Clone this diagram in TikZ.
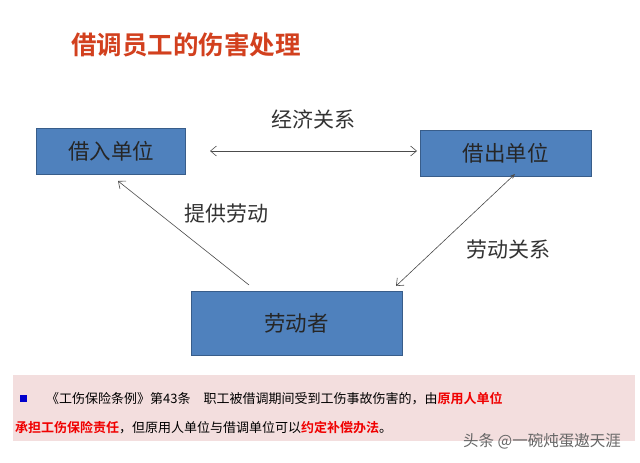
\documentclass[tikz,border=0pt]{standalone}
\usepackage{fontspec}
\newfontfamily\cjk{Noto Sans CJK SC}
\newfontfamily\cjkb{Noto Sans CJK SC Bold}
\usetikzlibrary{arrows.meta}
\definecolor{boxfill}{HTML}{4F81BD}
\definecolor{boxline}{HTML}{385D8A}
\definecolor{titlered}{HTML}{D2401E}
\definecolor{notebg}{HTML}{F3DEDE}
\definecolor{hired}{HTML}{F00000}
\tikzset{
  unitbox/.style={draw=boxline, line width=0.8pt, fill=boxfill, inner sep=0pt, font=\cjk\fontsize{21.5}{21.5}\selectfont, text=black!85},
  lbl/.style={font=\cjk\fontsize{21}{21}\selectfont, text=black!80, inner sep=0pt},
  conn/.style={draw=black!70, line width=0.6pt},
  notetext/.style={anchor=west, inner sep=0pt, font=\cjk\fontsize{13}{13}\selectfont},
}
\begin{document}
\begin{tikzpicture}[x=1pt,y=-1pt]
\useasboundingbox (0,0) rectangle (640,463);
\fill[white] (0,0) rectangle (640,463);
% title
\node[anchor=west, font=\cjkb\fontsize{25.5}{25.5}\selectfont, text=titlered, inner sep=0pt] (title) at (71,45) {借调员工的伤害处理};
% boxes
\node[unitbox, minimum width=149pt, minimum height=46pt] (borrow) at (111,151) {借入单位};
\node[unitbox, minimum width=171pt, minimum height=46pt] (lend) at (505.5,153) {借出单位};
\node[unitbox, minimum width=211pt, minimum height=64pt] (worker) at (296.5,323) {劳动者};
% labels
\node[lbl] (econ) at (313,119) {经济关系};
\node[lbl] (prov) at (226,214) {提供劳动};
\node[lbl] (labrel) at (508,250) {劳动关系};
% connectors
\coordinate (e1) at (210,151);
\coordinate (e2) at (417,151);
\draw[conn, {Straight Barb[length=6pt,width=10pt]}-{Straight Barb[length=6pt,width=10pt]}] (e1) -- (e2);
\coordinate (p1) at (249,285);
\coordinate (p2) at (118,181);
\draw[conn, -{Straight Barb[length=6pt,width=10pt]}] (p1) -- (p2);
\coordinate (l1) at (396,286);
\coordinate (l2) at (515,174);
\draw[conn, {Straight Barb[length=6pt,width=10pt]}-{Stealth[length=5pt,width=4pt]}] (l1) -- (l2);
% note
\fill[notebg] (13,375) rectangle (635,441);
\fill[blue!80!black] (20,395) rectangle (27,402);
\node[notetext] (note1) at (46,398.5) {《工伤保险条例》第43条\hspace{1em}职工被借调期间受到工伤事故伤害的，由{\cjkb\color{hired}原用人单位}};
\node[notetext] (note2) at (15,427.5) {{\cjkb\color{hired}承担工伤保险责任}，但原用人单位与借调单位可以{\cjkb\color{hired}约定补偿办法}。};
\node[anchor=west, inner sep=0pt, font=\cjk\fontsize{15.5}{15.5}\selectfont, text=black!60] (wm) at (463,441) {头条 @一碗炖蛋遨天涯};
\end{tikzpicture}
\end{document}
